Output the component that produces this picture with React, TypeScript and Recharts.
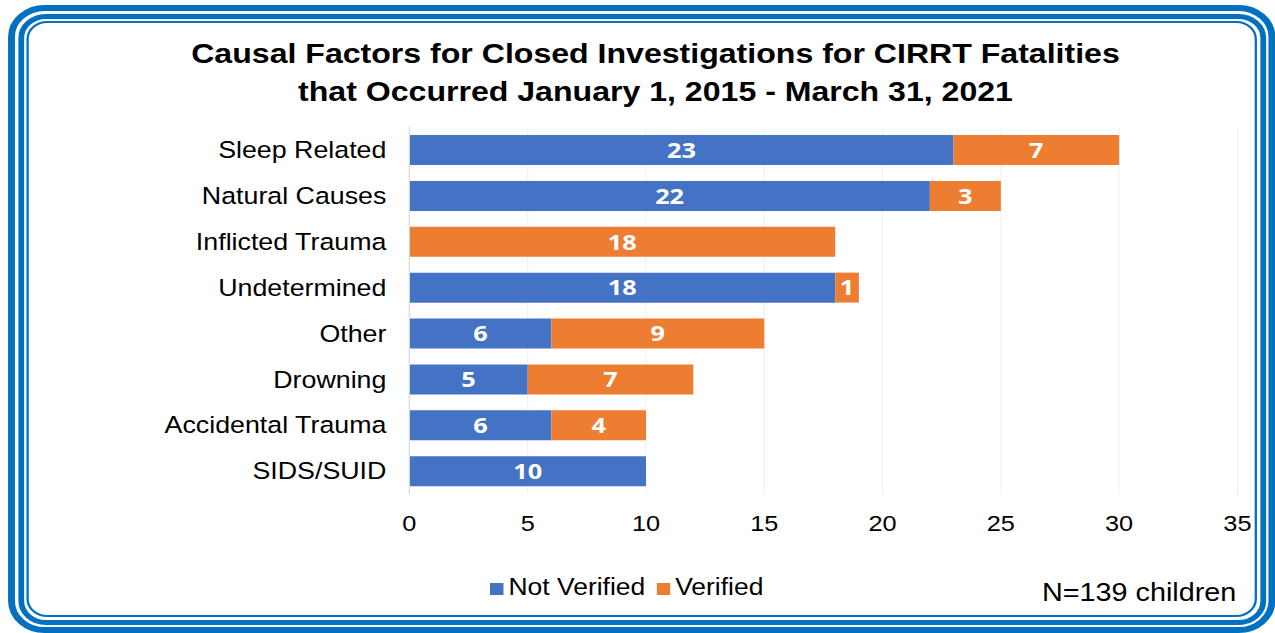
import React from "react";
import { BarChart, Bar, XAxis, YAxis, CartesianGrid, Legend, LabelList } from "recharts";

const causes = [
  "Sleep Related",
  "Natural Causes",
  "Inflicted Trauma",
  "Undetermined",
  "Other",
  "Drowning",
  "Accidental Trauma",
  "SIDS/SUID",
];
const notVerified = [23, 22, 0, 18, 6, 5, 6, 10];
const verified = [7, 3, 18, 1, 9, 7, 4, 0];
const xTicks = [0, 5, 10, 15, 20, 25, 30, 35];

const data = causes.map((c, i) => ({ cause: c, notVerified: notVerified[i], verified: verified[i] }));

const BLUE = "#4472C4";
const ORANGE = "#ED7D31";
const FRAME = "#0070C0";
const FONT = "'Liberation Sans', Arial, sans-serif";

// the original picture is stretched sideways; draw at design width and scale it
const STRETCH = 1.15;
const W = 1109;
const H = 633;

const hideZero = (v: any) => (Number(v) ? v : "");

const labelStyle = {
  fill: "#ffffff",
  fontSize: 22,
  fontWeight: 700,
  fontFamily: "'Open Sans', sans-serif",
};

export default function App() {
  return (
    <div
      style={{
        position: "absolute",
        left: 0,
        top: 0,
        width: W,
        height: H,
        transform: `scaleX(${STRETCH})`,
        transformOrigin: "0 0",
        background: "#fff",
        fontFamily: FONT,
      }}
    >
      {/* triple rounded frame */}
      <div
        style={{
          position: "absolute",
          left: 7,
          top: 5,
          width: W - 7,
          height: 628,
          boxSizing: "border-box",
          border: `6px solid ${FRAME}`,
          borderRadius: 32,
          padding: 2.5,
        }}
      >
        <div
          style={{
            width: "100%",
            height: "100%",
            boxSizing: "border-box",
            border: `5px solid ${FRAME}`,
            borderRadius: 24,
            padding: 2.5,
          }}
        >
          <div
            style={{
              width: "100%",
              height: "100%",
              boxSizing: "border-box",
              border: `2px solid ${FRAME}`,
              borderRadius: 18,
            }}
          />
        </div>
      </div>

      <div
        style={{
          position: "absolute",
          left: 570 - 500,
          width: 1000,
          top: 35,
          textAlign: "center",
          fontSize: 27.9,
          fontWeight: 700,
          lineHeight: "38px",
          color: "#000",
        }}
      >
        Causal Factors for Closed Investigations for CIRRT Fatalities
        <br />
        that Occurred January 1, 2015 - March 31, 2021
      </div>

      <div style={{ position: "absolute", left: 0, top: 0 }}>
        <BarChart
          width={W}
          height={H}
          data={data}
          layout="vertical"
          margin={{ top: 127, right: 33, bottom: 82, left: 0 }}
        >
          <CartesianGrid horizontal={false} stroke="#f0f0f0" />
          <XAxis
            type="number"
            domain={[0, 35]}
            ticks={xTicks}
            axisLine={false}
            tickLine={false}
            tickSize={0}
            tickMargin={21}
            height={30}
            tick={{ fontSize: 22, fill: "#000", fontFamily: FONT }}
          />
          <YAxis
            type="category"
            dataKey="cause"
            width={356}
            axisLine={{ stroke: "#d9d9d9" }}
            tickLine={false}
            tickSize={0}
            tickMargin={20}
            tick={{ fontSize: 23.3, fill: "#000", fontFamily: FONT }}
          />
          <Legend
            verticalAlign="bottom"
            iconType="square"
            iconSize={12}
            wrapperStyle={{ top: 574, left: 0, width: 1100, fontSize: 23, fontFamily: FONT, color: "#000" }}
            formatter={(v) => <span style={{ color: "#000" }}>{v}</span>}
          />
          <Bar dataKey="notVerified" name="Not Verified" stackId="a" fill={BLUE} barSize={30} isAnimationActive={false}>
            <LabelList dataKey="notVerified" position="center" formatter={hideZero} style={labelStyle} />
          </Bar>
          <Bar dataKey="verified" name="Verified" stackId="a" fill={ORANGE} barSize={30} isAnimationActive={false}>
            <LabelList dataKey="verified" position="center" formatter={hideZero} style={labelStyle} />
          </Bar>
        </BarChart>
      </div>

      <div
        style={{
          position: "absolute",
          right: 34,
          top: 580,
          fontSize: 25,
          lineHeight: "25px",
          color: "#000",
        }}
      >
        N=139 children
      </div>
    </div>
  );
}
